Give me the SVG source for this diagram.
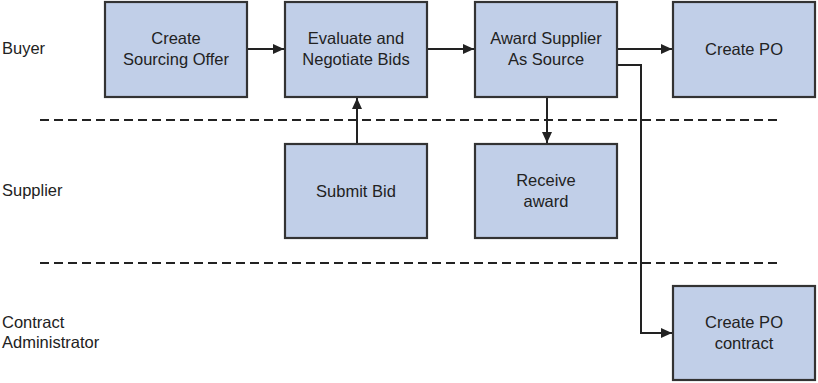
<svg xmlns="http://www.w3.org/2000/svg" width="818" height="383" viewBox="0 0 818 383">
<style>
.box{fill:#c1cfe8;stroke:#333;stroke-width:2.2}
.t{font-family:"Liberation Sans",Arial,sans-serif;font-size:16.5px;fill:#222;text-anchor:middle}
.l{font-family:"Liberation Sans",Arial,sans-serif;font-size:16.5px;fill:#222}
.c{fill:none;stroke:#222;stroke-width:2}
.d{fill:none;stroke:#222;stroke-width:2;stroke-dasharray:9,5}
</style>
<defs>
<marker id="ah" markerWidth="12" markerHeight="10" refX="11" refY="5" orient="auto" markerUnits="userSpaceOnUse">
<path d="M0,0 L11,5 L0,10 Z" fill="#222"/>
</marker>
</defs>
<rect width="818" height="383" fill="#fff"/>
<g id="lanes">
<line class="d" x1="40" y1="120" x2="777" y2="120"/>
<line class="d" x1="40" y1="263" x2="777" y2="263"/>
<text class="l" x="2" y="54">Buyer</text>
<text class="l" x="2" y="196">Supplier</text>
<text class="l" x="2" y="328">Contract</text>
<text class="l" x="2" y="348">Administrator</text>
</g>
<g id="connectors">
<line class="c" x1="247" y1="49" x2="284" y2="49" marker-end="url(#ah)"/>
<line class="c" x1="427" y1="49" x2="474" y2="49" marker-end="url(#ah)"/>
<line class="c" x1="617" y1="49" x2="672" y2="49" marker-end="url(#ah)"/>
<line class="c" x1="357" y1="144" x2="357" y2="98" marker-end="url(#ah)"/>
<line class="c" x1="547" y1="97" x2="547" y2="143" marker-end="url(#ah)"/>
<polyline class="c" points="617,65 641,65 641,333 672,333" marker-end="url(#ah)"/>
</g>
<g id="n1"><rect class="box" x="105" y="2" width="142" height="95"/><text class="t" x="176" y="44">Create</text><text class="t" x="176" y="65">Sourcing Offer</text></g>
<g id="n2"><rect class="box" x="285" y="2" width="142" height="95"/><text class="t" x="356" y="44">Evaluate and</text><text class="t" x="356" y="65">Negotiate Bids</text></g>
<g id="n3"><rect class="box" x="475" y="2" width="142" height="95"/><text class="t" x="546" y="44">Award Supplier</text><text class="t" x="546" y="65">As Source</text></g>
<g id="n4"><rect class="box" x="673" y="2" width="142" height="95"/><text class="t" x="744" y="55">Create PO</text></g>
<g id="n5"><rect class="box" x="285" y="144" width="142" height="94"/><text class="t" x="356" y="197">Submit Bid</text></g>
<g id="n6"><rect class="box" x="475" y="144" width="142" height="94"/><text class="t" x="546" y="186">Receive</text><text class="t" x="546" y="207">award</text></g>
<g id="n7"><rect class="box" x="673" y="286" width="142" height="94"/><text class="t" x="744" y="328">Create PO</text><text class="t" x="744" y="349">contract</text></g>
</svg>
